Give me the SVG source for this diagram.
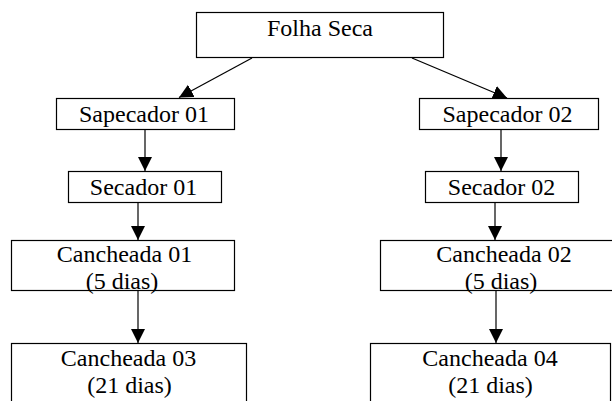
<svg xmlns="http://www.w3.org/2000/svg" width="612" height="401" viewBox="0 0 612 401" font-family="'Liberation Serif', 'Times New Roman', 'DejaVu Serif', serif">
<defs>
<style>
.box{fill:#fff;stroke:#000;stroke-width:1.2}
.t{font-family:'Liberation Serif','Times New Roman','DejaVu Serif',serif;font-size:24px;fill:#000;text-anchor:middle}
.c{stroke:#000;stroke-width:1.2;fill:none;marker-end:url(#ah)}
</style>
<marker id="ah" markerUnits="userSpaceOnUse" markerWidth="15" markerHeight="15" refX="14" refY="7" orient="auto">
<path d="M0,0 L14,7 L0,14 Z" fill="#000"/>
</marker>
</defs>
<rect width="612" height="401" fill="#fff"/>
<g id="connectors">
<line class="c" x1="252" y1="58" x2="179" y2="97.5"/>
<line class="c" x1="412" y1="58" x2="507" y2="98"/>
<line class="c" x1="145" y1="129" x2="145" y2="171"/>
<line class="c" x1="138" y1="203" x2="138" y2="240"/>
<line class="c" x1="138" y1="291" x2="138" y2="343"/>
<line class="c" x1="501" y1="129" x2="501" y2="171"/>
<line class="c" x1="495" y1="203" x2="495" y2="240"/>
<line class="c" x1="496" y1="290" x2="496" y2="343"/>
</g>
<g id="folha-seca">
<rect class="box" x="196.5" y="12.5" width="247" height="45"/>
<text class="t" x="320" y="36">Folha Seca</text>
</g>
<g id="sapecador-01">
<rect class="box" x="56.5" y="98.5" width="178" height="31"/>
<text class="t" x="144" y="122">Sapecador 01</text>
</g>
<g id="sapecador-02">
<rect class="box" x="419.5" y="98.5" width="179" height="31"/>
<text class="t" x="507.5" y="122">Sapecador 02</text>
</g>
<g id="secador-01">
<rect class="box" x="68.5" y="171.5" width="153" height="31"/>
<text class="t" x="143.5" y="195">Secador 01</text>
</g>
<g id="secador-02">
<rect class="box" x="425.5" y="171.5" width="153" height="31"/>
<text class="t" x="501.5" y="195">Secador 02</text>
</g>
<g id="cancheada-01">
<rect class="box" x="11.5" y="240.5" width="223" height="50"/>
<text class="t" x="124.5" y="262">Cancheada 01</text>
<text class="t" x="122" y="289">(5 dias)</text>
</g>
<g id="cancheada-02">
<rect class="box" x="380.5" y="240.5" width="245" height="50"/>
<text class="t" x="504" y="262">Cancheada 02</text>
<text class="t" x="501" y="289">(5 dias)</text>
</g>
<g id="cancheada-03">
<rect class="box" x="11.5" y="343.5" width="235" height="70"/>
<text class="t" x="128.5" y="366">Cancheada 03</text>
<text class="t" x="129.5" y="393">(21 dias)</text>
</g>
<g id="cancheada-04">
<rect class="box" x="370.5" y="343.5" width="240" height="70"/>
<text class="t" x="490" y="366">Cancheada 04</text>
<text class="t" x="490.5" y="393">(21 dias)</text>
</g>
</svg>
